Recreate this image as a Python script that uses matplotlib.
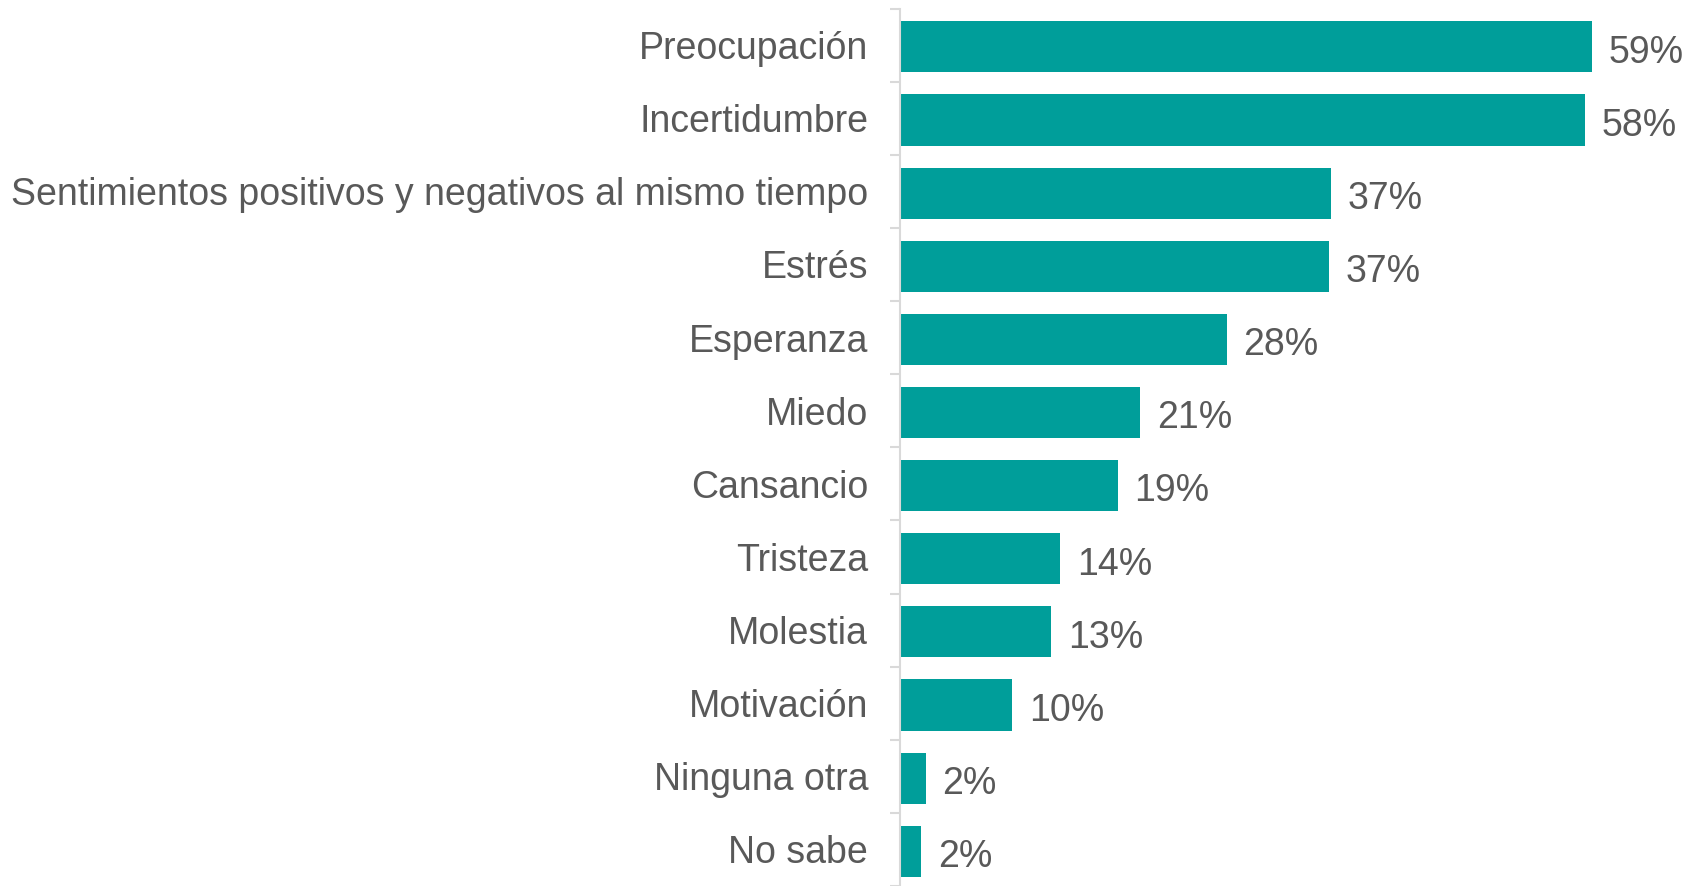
import matplotlib.pyplot as plt
import numpy as np

categories = ["Preocupación", "Incertidumbre",
              "Sentimientos positivos y negativos al mismo tiempo", "Estrés",
              "Esperanza", "Miedo", "Cansancio", "Tristeza", "Molestia",
              "Motivación", "Ninguna otra", "No sabe"]
values = [59.1, 58.5, 36.8, 36.6, 27.9, 20.5, 18.6, 13.7, 12.9, 9.6, 2.2, 1.8]
labels = ["59%", "58%", "37%", "37%", "28%", "21%", "19%", "14%", "13%", "10%", "2%", "2%"]

plt.rcParams['font.family'] = ['Liberation Sans', 'DejaVu Sans']
text_color = "#595959"

fig = plt.figure(figsize=(16.88, 8.86), dpi=100)
ax = fig.add_axes([0.5332, 0.0, 0.4668, 0.9904])

y = np.arange(len(categories))
ax.barh(y + 0.025, values, height=0.7, color="#009E9A")
for yi, v, lab in zip(y, values, labels):
    ax.annotate(lab, (v, yi), xytext=(12, -5.5), textcoords="offset points",
                va="center", ha="left", fontsize=27, color=text_color)

ax.set_ylim(len(categories) - 0.5, -0.5)
ax.set_xlim(0, 67.3)
ax.set_yticks(y)
ax.set_yticklabels(categories, fontsize=27, color=text_color, va="center_baseline")
ax.set_yticks(np.arange(-0.5, len(categories), 1), minor=True)
ax.tick_params(axis="y", which="major", length=0, pad=23)
ax.tick_params(axis="y", which="minor", length=7.5, width=1.5, color="#D9D9D9")
ax.set_xticks([])
for s in ["top", "right", "bottom"]:
    ax.spines[s].set_visible(False)
ax.spines["left"].set_color("#D9D9D9")
ax.spines["left"].set_linewidth(1.5)

fig.savefig("out.png", dpi=100)
